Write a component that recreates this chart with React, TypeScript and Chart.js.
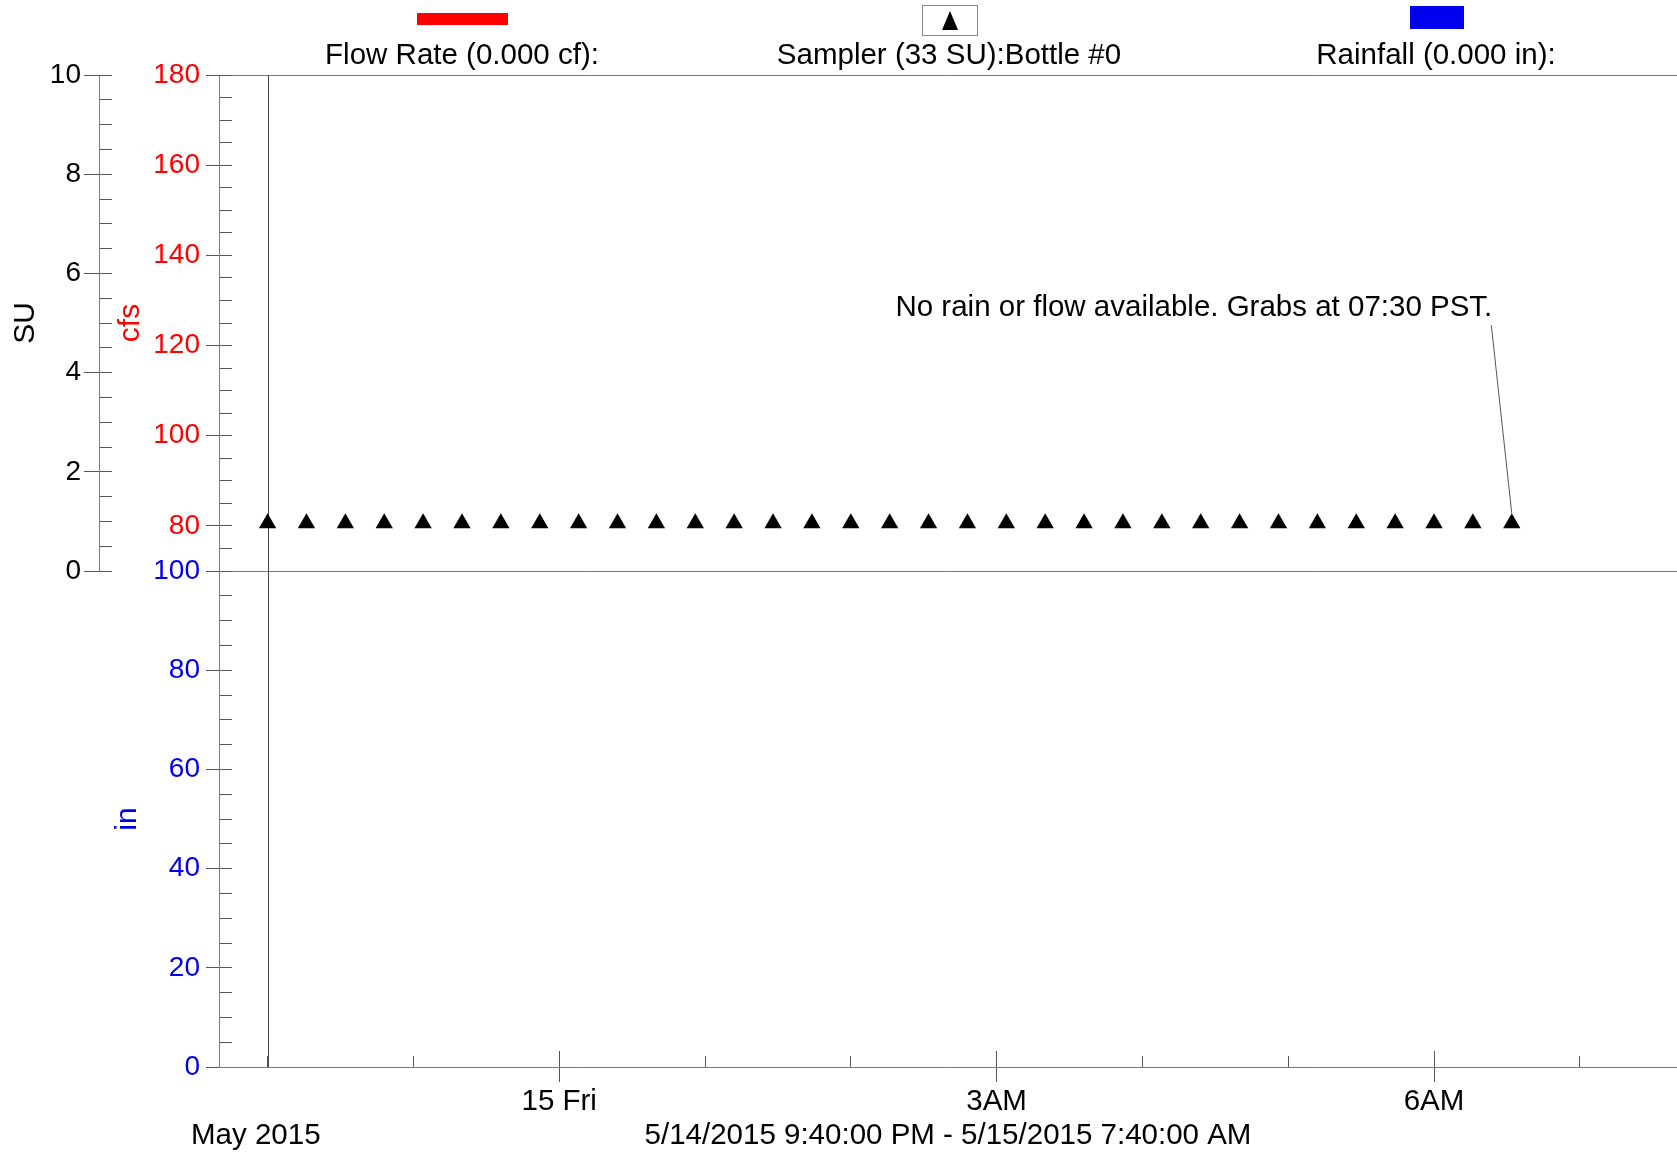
import React, { useEffect, useRef } from 'react';
import { Chart, registerables } from 'chart.js';

Chart.register(...registerables);

const FONT = '"Liberation Sans", Arial, Helvetica, sans-serif';

// ---- data (x = minutes relative to midnight 5/15/2015) ----
const SAMPLE_TIMES = [
  -120, -104, -88, -72, -56, -40, -24, -8, 8, 24, 40,
  56, 72, 88, 104, 120, 136, 152, 168, 184, 200, 216,
  232, 248, 264, 280, 296, 312, 328, 344, 360, 376, 392,
];
const SAMPLE_LEVEL = [
  80.6, 80.6, 80.6, 80.6, 80.6, 80.6, 80.6, 80.6, 80.6, 80.6, 80.6,
  80.6, 80.6, 80.6, 80.6, 80.6, 80.6, 80.6, 80.6, 80.6, 80.6, 80.6,
  80.6, 80.6, 80.6, 80.6, 80.6, 80.6, 80.6, 80.6, 80.6, 80.6, 80.6,
];
const FLOW_POINTS: { x: number; y: number }[] = [];
const RAIN_POINTS: { x: number; y: number }[] = [];

const X_MIN = -140; // 5/14 9:40 PM
const X_MAX = 460; // 5/15 7:40 AM
const X_MAJOR_TICKS = [0, 180, 360];
const X_MAJOR_LABELS = ['15 Fri', '3AM', '6AM'];
const X_HOUR_TICKS = [-120, -60, 0, 60, 120, 180, 240, 300, 360, 420];
const MARKER_TIME = -120;

const SU_MIN = 0, SU_MAX = 10;
const SU_TICKS = [0, 2, 4, 6, 8, 10];
const CFS_MIN = 70, CFS_MAX = 180;
const CFS_TICKS = [80, 100, 120, 140, 160, 180];
const IN_MIN = 0, IN_MAX = 100;
const IN_TICKS = [0, 20, 40, 60, 80, 100];

const LEGEND_LABELS = ['Flow Rate (0.000 cf):', 'Sampler (33 SU):Bottle #0', 'Rainfall (0.000 in):'];
const ANNOTATION_TEXT = 'No rain or flow available. Grabs at 07:30 PST.';
const ANNOTATION_X = 384;
const ANNOTATION_Y = 128.3;
const RANGE_TEXT = '5/14/2015 9:40:00 PM - 5/15/2015 7:40:00 AM';
const MONTH_TEXT = 'May 2015';

// ---- styles ----
const RED = '#ff0000';
const BLUE = '#0000f0';
const LINE = '#7a7a7a';
const TICK = '#555555';
const POINT_R = 10;
const TEXT_SIZE = 29.5;
const TICK_SIZE = 28;
const YTITLE_SIZE = 30;

const fixedWidth = (w: number) => (s: any) => { s.width = w; };
const fixedHeight = (h: number) => (s: any) => { s.height = h; };
const setTicks = (arr: number[]) => (s: any) => { s.ticks = arr.map((v) => ({ value: v })); };

const decorPlugin = {
  id: 'decor',
  beforeDatasetsDraw(chart: any) {
    const { ctx, chartArea } = chart;
    const xs = chart.scales.x;
    const px = Math.round(xs.getPixelForValue(MARKER_TIME)) + 0.5;
    ctx.save();
    ctx.strokeStyle = '#444';
    ctx.lineWidth = 1;
    ctx.beginPath();
    ctx.moveTo(px, chartArea.top);
    ctx.lineTo(px, chartArea.bottom);
    ctx.stroke();
    ctx.restore();
  },
  afterDraw(chart: any) {
    const { ctx } = chart;
    const xs = chart.scales.x;
    const ys = chart.scales.cfs;
    ctx.save();
    // legend swatches
    ctx.fillStyle = RED;
    ctx.fillRect(417, 13, 91, 12);
    ctx.fillStyle = '#fff';
    ctx.strokeStyle = '#888';
    ctx.lineWidth = 1;
    ctx.fillRect(922, 5, 55, 30);
    ctx.strokeRect(922.5, 5.5, 55, 30);
    ctx.fillStyle = '#000';
    ctx.beginPath();
    ctx.moveTo(950, 11);
    ctx.lineTo(942, 30);
    ctx.lineTo(958, 30);
    ctx.closePath();
    ctx.fill();
    ctx.fillStyle = BLUE;
    ctx.fillRect(1410, 6, 54, 23);
    // legend labels
    ctx.fillStyle = '#000';
    ctx.font = `${TEXT_SIZE}px ${FONT}`;
    ctx.textAlign = 'center';
    ctx.textBaseline = 'middle';
    ctx.fillText(LEGEND_LABELS[0], 462, 56);
    ctx.fillText(LEGEND_LABELS[1], 949, 56);
    ctx.fillText(LEGEND_LABELS[2], 1436, 56);
    // annotation
    const tx = xs.getPixelForValue(ANNOTATION_X);
    const ty = ys.getPixelForValue(ANNOTATION_Y);
    ctx.textAlign = 'right';
    ctx.fillText(ANNOTATION_TEXT, tx, ty);
    const last = SAMPLE_TIMES.length - 1;
    const lx = xs.getPixelForValue(SAMPLE_TIMES[last]);
    const ly = ys.getPixelForValue(SAMPLE_LEVEL[last]) - POINT_R;
    ctx.strokeStyle = '#555';
    ctx.beginPath();
    ctx.moveTo(tx - 1, ty + 17);
    ctx.lineTo(lx, ly);
    ctx.stroke();
    // month label
    ctx.textAlign = 'left';
    ctx.fillText(MONTH_TEXT, 191, 1136);
    ctx.restore();
  },
};

export default function App() {
  const ref = useRef<HTMLCanvasElement>(null);
  useEffect(() => {
    document.body.style.margin = '0';
    document.body.style.overflow = 'hidden';
    Chart.defaults.font.family = FONT;
    Chart.defaults.color = '#000';
    const canvas = ref.current as HTMLCanvasElement;
    const chart = new Chart(canvas, {
      type: 'scatter',
      data: {
        datasets: [
          {
            label: LEGEND_LABELS[1],
            data: SAMPLE_TIMES.map((t, i) => ({ x: t, y: SAMPLE_LEVEL[i] })),
            xAxisID: 'x',
            yAxisID: 'cfs',
            pointStyle: 'triangle',
            pointRadius: POINT_R,
            pointHoverRadius: POINT_R,
            backgroundColor: '#000',
            borderColor: '#000',
            borderWidth: 0,
            showLine: false,
            clip: false,
          },
          { label: LEGEND_LABELS[0], data: FLOW_POINTS, xAxisID: 'x', yAxisID: 'cfs', borderColor: RED, backgroundColor: RED, showLine: true },
          { label: LEGEND_LABELS[2], data: RAIN_POINTS, xAxisID: 'x', yAxisID: 'in', borderColor: BLUE, backgroundColor: BLUE },
        ],
      },
      options: {
        responsive: false,
        animation: false,
        devicePixelRatio: 1,
        events: [],
        layout: { autoPadding: false, padding: { top: 75, left: 0, right: 0, bottom: 0 } },
        plugins: { legend: { display: false }, tooltip: { enabled: false } },
        scales: {
          x: {
            type: 'linear', position: 'bottom', weight: 3, min: X_MIN, max: X_MAX,
            afterBuildTicks: setTicks(X_MAJOR_TICKS),
            ticks: {
              autoSkip: false, maxRotation: 0, padding: 2, color: '#000', font: { size: TEXT_SIZE },
              callback: (v: any) => { const i = X_MAJOR_TICKS.indexOf(Number(v)); return i >= 0 ? X_MAJOR_LABELS[i] : ''; },
            },
            grid: { drawOnChartArea: false, tickLength: 15, tickColor: TICK },
            border: { color: LINE },
            title: { display: true, text: RANGE_TEXT, color: '#000', font: { size: TEXT_SIZE }, padding: { top: 0, bottom: 0 } },
            afterFit: fixedHeight(87),
          },
          xHour: {
            type: 'linear', position: 'bottom', weight: 2, min: X_MIN, max: X_MAX,
            afterBuildTicks: setTicks(X_HOUR_TICKS),
            ticks: { display: false },
            grid: { drawOnChartArea: false, tickLength: -11, tickColor: TICK },
            border: { display: false },
            afterFit: fixedHeight(0),
          },
          xMajorIn: {
            type: 'linear', position: 'bottom', weight: 1, min: X_MIN, max: X_MAX,
            afterBuildTicks: setTicks(X_MAJOR_TICKS),
            ticks: { display: false },
            grid: { drawOnChartArea: false, tickLength: -16, tickColor: TICK },
            border: { display: false },
            afterFit: fixedHeight(0),
          },
          su: {
            type: 'linear', position: 'left', stack: 'a', stackWeight: 1, weight: 4.1,
            min: SU_MIN, max: SU_MAX,
            afterBuildTicks: setTicks(SU_TICKS),
            ticks: { autoSkip: false, color: '#000', font: { size: TICK_SIZE }, padding: 3 },
            grid: { drawOnChartArea: false, tickLength: 15, tickColor: TICK },
            border: { color: LINE },
            title: { display: true, text: 'SU', color: '#000', font: { size: YTITLE_SIZE }, padding: { top: 8, bottom: 0 } },
            afterFit: fixedWidth(99),
          },
          suPad: {
            type: 'linear', position: 'left', stack: 'a', stackWeight: 1, weight: 4,
            min: 0, max: 1, display: false,
            afterFit: fixedWidth(99),
          },
          suIn: {
            type: 'linear', position: 'left', stack: 'b', stackWeight: 1, weight: 3.1,
            min: SU_MIN, max: SU_MAX,
            ticks: { display: false, stepSize: 0.5 },
            grid: { drawOnChartArea: false, tickLength: -13, tickColor: TICK },
            border: { display: false },
            afterFit: fixedWidth(0),
          },
          suInPad: {
            type: 'linear', position: 'left', stack: 'b', stackWeight: 1, weight: 3,
            min: 0, max: 1, display: false,
            afterFit: fixedWidth(0),
          },
          cfs: {
            type: 'linear', position: 'left', stack: 'c', stackWeight: 1, weight: 2.1,
            min: CFS_MIN, max: CFS_MAX,
            afterBuildTicks: setTicks(CFS_TICKS),
            ticks: { autoSkip: false, color: RED, font: { size: TICK_SIZE }, padding: 6 },
            grid: {
              drawOnChartArea: true, tickLength: 13, tickColor: TICK,
              color: (c: any) => (c.tick && c.tick.value === CFS_MAX ? LINE : 'rgba(0,0,0,0)'),
            },
            border: { color: LINE },
            title: { display: true, text: 'cfs', color: RED, font: { size: YTITLE_SIZE }, padding: { top: 14, bottom: 0 } },
            afterFit: fixedWidth(120),
          },
          in: {
            type: 'linear', position: 'left', stack: 'c', stackWeight: 1, weight: 2,
            min: IN_MIN, max: IN_MAX,
            afterBuildTicks: setTicks(IN_TICKS),
            ticks: { autoSkip: false, color: BLUE, font: { size: TICK_SIZE }, padding: 6 },
            grid: {
              drawOnChartArea: true, tickLength: 13, tickColor: TICK,
              color: (c: any) => (c.tick && c.tick.value === IN_MAX ? LINE : 'rgba(0,0,0,0)'),
            },
            border: { color: LINE },
            title: { display: true, text: 'in', color: BLUE, font: { size: YTITLE_SIZE }, padding: { top: 11, bottom: 0 } },
            afterFit: fixedWidth(120),
          },
          cfsIn: {
            type: 'linear', position: 'left', stack: 'd', stackWeight: 1, weight: 1.1,
            min: CFS_MIN, max: CFS_MAX,
            ticks: { display: false, stepSize: 5 },
            grid: { drawOnChartArea: false, tickLength: -13, tickColor: TICK },
            border: { display: false },
            afterFit: fixedWidth(0),
          },
          inIn: {
            type: 'linear', position: 'left', stack: 'd', stackWeight: 1, weight: 1,
            min: IN_MIN, max: IN_MAX,
            ticks: { display: false, stepSize: 5 },
            grid: { drawOnChartArea: false, tickLength: -13, tickColor: TICK },
            border: { display: false },
            afterFit: fixedWidth(0),
          },
        },
      } as any,
      plugins: [decorPlugin],
    });
    return () => chart.destroy();
  }, []);
  return (
    <canvas
      ref={ref}
      width={1677}
      height={1154}
      style={{ display: 'block', width: 1677, height: 1154 }}
    />
  );
}
